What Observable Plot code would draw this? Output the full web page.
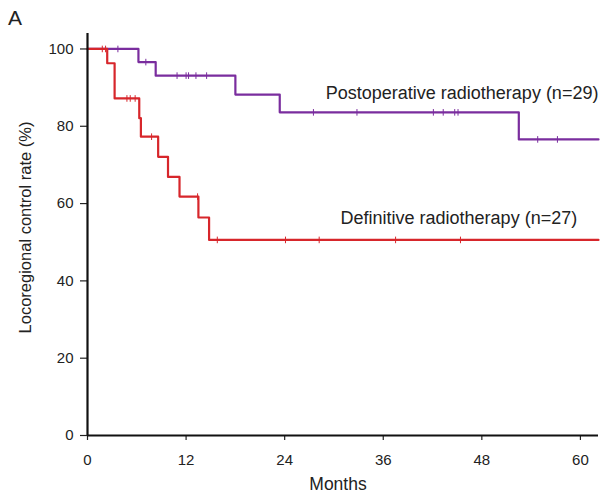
<!DOCTYPE html>
<html>
<head>
<meta charset="utf-8">
<script src="https://cdn.jsdelivr.net/npm/d3@7"></script>
<script src="https://cdn.jsdelivr.net/npm/@observablehq/plot@0.6"></script>
<style>
  html, body { margin: 0; padding: 0; background: #fff; }
  #wrap { position: relative; width: 602px; height: 494px; font-family: "Liberation Sans", Arial, sans-serif; }
  #panel { position: absolute; left: 8px; top: 6px; font-size: 21px; color: #222; }
</style>
</head>
<body>
<div id="wrap"><div id="panel">A</div></div>
<script>
// Postoperative radiotherapy (n=29): step events
const postTime = [0, 6.2, 8.3, 18.0, 23.4, 52.5, 62.2];
const postRate = [100, 96.6, 93.1, 88.2, 83.6, 76.6, 76.6];
const postCensor = [3.7, 7.1, 10.9, 12.0, 12.3, 13.2, 14.5, 27.5, 32.8, 42.1, 43.3, 44.7, 45.1, 54.8, 57.2];

// Definitive radiotherapy (n=27): step events
const defTime = [0, 2.4, 3.3, 6.3, 6.5, 8.6, 9.8, 11.2, 13.5, 14.8, 62.2];
const defRate = [100, 96.3, 87.2, 82.1, 77.3, 72.1, 66.9, 61.8, 56.4, 50.6, 50.6];
const defCensor = [1.8, 2.2, 4.8, 5.2, 5.8, 7.8, 13.4, 15.8, 24.1, 28.2, 37.5, 45.4];

const seriesNames = ["Postoperative radiotherapy (n=29)", "Definitive radiotherapy (n=27)"];
const labelX = [29.0, 30.8];
const labelY = [88.6, 56.3];
const xTicks = [0, 12, 24, 36, 48, 60];
const yTicks = [0, 20, 40, 60, 80, 100];
const colors = ["#7a2d9e", "#d7262b"];

function stepData(times, rates, name) {
  return times.map((t, i) => ({t, r: rates[i], name}));
}
function rateAt(times, rates, t) {
  let v = rates[0];
  for (let i = 0; i < times.length; i++) if (times[i] <= t) v = rates[i];
  return v;
}
const curves = [
  ...stepData(postTime, postRate, seriesNames[0]),
  ...stepData(defTime, defRate, seriesNames[1])
];
const censors = [
  ...postCensor.map(t => ({t, r: rateAt(postTime, postRate, t), name: seriesNames[0]})),
  ...defCensor.map(t => ({t, r: rateAt(defTime, defRate, t), name: seriesNames[1]}))
];
const labels = seriesNames.map((name, i) => ({name, t: labelX[i], r: labelY[i]}));

const vbar = {
  draw(ctx, size) {
    const h = Math.sqrt(size / Math.PI);
    ctx.moveTo(0, -h);
    ctx.lineTo(0, h);
  }
};

const chart = Plot.plot({
  width: 602,
  height: 494,
  marginLeft: 87,
  marginRight: 4,
  marginTop: 33,
  marginBottom: 59,
  style: {fontFamily: "'Liberation Sans', Arial, sans-serif", fontSize: "15px", color: "#222", background: "transparent"},
  x: {domain: [0, 62.2]},
  y: {domain: [0, 104]},
  color: {domain: seriesNames, range: colors},
  marks: [
    Plot.axisX({ticks: xTicks, tickSize: 5, tickPadding: 14, fontSize: 15, label: null, stroke: "#222", strokeWidth: 1.2}),
    Plot.axisY({ticks: yTicks, tickSize: 7, tickPadding: 7, fontSize: 15, label: null, stroke: "#222", strokeWidth: 1.2}),
    Plot.text(["Months"], {frameAnchor: "bottom", lineAnchor: "bottom", dx: -5, dy: 54, fontSize: 17.5, fill: "#222"}),
    Plot.text(["Locoregional control rate (%)"], {frameAnchor: "left", textAnchor: "middle", lineAnchor: "middle", dx: -62, dy: -7, rotate: -90, fontSize: 16.5, fill: "#222"}),
    Plot.line(curves, {x: "t", y: "r", z: "name", stroke: "name", curve: "step-after", strokeWidth: 2.2}),
    Plot.dot(censors, {x: "t", y: "r", stroke: "name", symbol: vbar, r: 3.3, strokeWidth: 1, fill: "none"}),
    Plot.ruleY([0], {stroke: "#111", strokeWidth: 2.2}),
    Plot.ruleX([0], {stroke: "#111", strokeWidth: 2.2}),
    Plot.text(labels, {x: "t", y: "r", text: "name", textAnchor: "start", fontSize: 18, fill: "#222"})
  ]
});
document.getElementById("wrap").appendChild(chart);
</script>
</body>
</html>
